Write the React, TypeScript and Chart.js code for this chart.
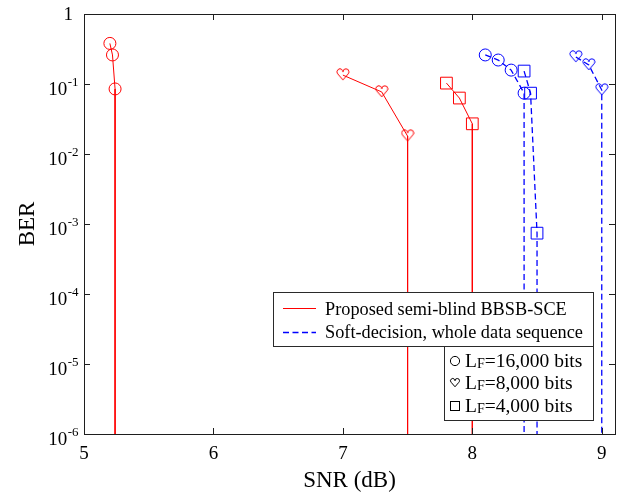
import React, { useEffect, useRef } from 'react';
import { Chart, registerables } from 'chart.js';

Chart.register(...registerables);

const FONT = "'Liberation Serif', 'Times New Roman', Times, serif";

// Axis ticks
const xTicks = [5, 6, 7, 8, 9];
const yExponents = [0, -1, -2, -3, -4, -5, -6];

// Proposed semi-blind BBSB-SCE (red, solid)
const propCircleX = [5.2, 5.22, 5.24, 5.24];
const propCircleY = [0.38, 0.26, 0.085, 1e-7];
const propHeartX = [7.0, 7.3, 7.5, 7.5];
const propHeartY = [0.134, 0.077, 0.018, 1e-7];
const propSquareX = [7.8, 7.9, 8.0, 8.0];
const propSquareY = [0.103, 0.063, 0.027, 1e-7];

// Soft-decision, whole data sequence (blue, dashed)
const softCircleX = [8.1, 8.2, 8.3, 8.4, 8.4];
const softCircleY = [0.26, 0.22, 0.158, 0.074, 1e-7];
const softHeartX = [8.8, 8.9, 9.0, 9.0];
const softHeartY = [0.243, 0.187, 0.082, 1e-7];
const softSquareX = [8.4, 8.45, 8.5, 8.5];
const softSquareY = [0.153, 0.074, 7.4e-4, 1e-7];

const legendLines = ['Proposed semi-blind BBSB-SCE', 'Soft-decision, whole data sequence'];
const legendMarkers = ['=16,000 bits', '=8,000 bits', '=4,000 bits'];

function heartPath(g: CanvasRenderingContext2D, cx: number, top: number, w: number) {
  const r = w / 4;
  const cy = top + r;
  const bottom = top + w * 0.92;
  g.beginPath();
  g.moveTo(cx, bottom);
  g.lineTo(cx - r - r * Math.SQRT1_2, cy + r * Math.SQRT1_2);
  g.arc(cx - r, cy, r, 0.75 * Math.PI, 2 * Math.PI);
  g.arc(cx + r, cy, r, Math.PI, 2.25 * Math.PI);
  g.closePath();
}

function makeHeart(color: string, s: number): HTMLCanvasElement {
  const c = document.createElement('canvas');
  c.width = s;
  c.height = s;
  const g = c.getContext('2d')!;
  g.strokeStyle = color;
  g.lineWidth = 1;
  heartPath(g, s / 2, 0.8, s - 2);
  g.stroke();
  return c;
}

function mk(label: string, xs: number[], ys: number[], color: string, style: any, dashed: boolean) {
  return {
    label,
    data: xs.map((x, i) => ({ x, y: ys[i] })),
    borderColor: color,
    borderWidth: dashed ? 1.3 : 1,
    borderDash: dashed ? [6, 3.5] : [],
    pointStyle: style,
    pointRadius: xs.map((_, i) => (i === xs.length - 1 ? 0 : style === 'rect' ? 8.3 : 6)),
    pointBorderColor: color,
    pointBackgroundColor: 'rgba(0,0,0,0)',
    pointBorderWidth: 1,
    tension: 0,
    fill: false,
  };
}

const framePlugin = {
  id: 'matlabFrame',
  afterDatasetsDraw(chart: any) {
    const { ctx, chartArea: a, scales } = chart;
    const xs = scales.x;
    const ys = scales.y;
    const L = Math.round(a.left);
    const R = Math.round(a.right);
    const T = Math.round(a.top);
    const B = Math.round(a.bottom);
    ctx.save();
    ctx.setLineDash([]);
    ctx.strokeStyle = '#1e1e1e';
    ctx.lineWidth = 1;
    ctx.strokeRect(L + 0.5, T + 0.5, R - L, B - T);
    const tl = 6;
    ctx.beginPath();
    xTicks.forEach((v) => {
      const px = Math.round(xs.getPixelForValue(v)) + 0.5;
      ctx.moveTo(px, B);
      ctx.lineTo(px, B - tl);
      ctx.moveTo(px, T);
      ctx.lineTo(px, T + tl);
    });
    yExponents.forEach((e) => {
      const py = Math.round(ys.getPixelForValue(Math.pow(10, e))) + 0.5;
      ctx.moveTo(L, py);
      ctx.lineTo(L + tl, py);
      ctx.moveTo(R, py);
      ctx.lineTo(R - tl, py);
    });
    ctx.stroke();

    // tick labels
    ctx.fillStyle = '#000';
    ctx.textBaseline = 'alphabetic';
    ctx.font = `19px ${FONT}`;
    ctx.textAlign = 'center';
    xTicks.forEach((v) => {
      const px = xs.getPixelForValue(v);
      ctx.fillText(String(v), px, B + 25);
    });
    ctx.textAlign = 'left';
    yExponents.forEach((e) => {
      const py = ys.getPixelForValue(Math.pow(10, e));
      if (e === 0) {
        ctx.font = `19px ${FONT}`;
        const w = ctx.measureText('1').width;
        ctx.fillText('1', L - 11 - w, py + 6);
        return;
      }
      ctx.font = `19px ${FONT}`;
      const w1 = ctx.measureText('10').width;
      ctx.font = `13px ${FONT}`;
      const sup = '-' + String(-e);
      const w2 = ctx.measureText(sup).width;
      const x0 = L - 6 - w1 - w2;
      ctx.font = `19px ${FONT}`;
      ctx.fillText('10', x0, py + 11);
      ctx.font = `13px ${FONT}`;
      ctx.fillText(sup, x0 + w1 + 0.5, py + 2);
    });

    // axis titles
    ctx.font = `23px ${FONT}`;
    ctx.textAlign = 'center';
    ctx.fillText('SNR (dB)', (L + R) / 2, 487);
    ctx.save();
    ctx.translate(34, (T + B) / 2);
    ctx.rotate(-Math.PI / 2);
    ctx.fillText('BER', 0, 0);
    ctx.restore();

    // legend boxes
    ctx.fillStyle = '#fff';
    ctx.fillRect(273, 292, 320, 54);
    ctx.fillRect(444, 346, 149, 74);
    ctx.strokeStyle = '#2a2a2a';
    ctx.strokeRect(273.5, 292.5, 320, 54);
    ctx.strokeRect(444.5, 346.5, 149, 74);

    ctx.lineWidth = 1;
    ctx.strokeStyle = '#ff0000';
    ctx.beginPath();
    ctx.moveTo(283, 308.5);
    ctx.lineTo(316, 308.5);
    ctx.stroke();
    ctx.strokeStyle = '#0000ff';
    ctx.lineWidth = 1.3;
    ctx.setLineDash([6, 3.5]);
    ctx.beginPath();
    ctx.moveTo(283, 332.5);
    ctx.lineTo(316, 332.5);
    ctx.stroke();
    ctx.setLineDash([]);

    ctx.fillStyle = '#000';
    ctx.textAlign = 'left';
    ctx.font = `18.3px ${FONT}`;
    ctx.fillText(legendLines[0], 325, 315);
    ctx.fillText(legendLines[1], 325, 338);

    // legend box 2 markers
    ctx.strokeStyle = '#000';
    ctx.lineWidth = 1;
    ctx.beginPath();
    ctx.arc(455, 361, 4.6, 0, Math.PI * 2);
    ctx.stroke();
    heartPath(ctx, 455, 378.5, 9);
    ctx.stroke();
    ctx.strokeRect(450.5, 401.5, 9, 9);

    const rowsY = [367, 389, 412];
    rowsY.forEach((by, i) => {
      ctx.font = `19.5px ${FONT}`;
      let x = 465;
      ctx.fillText('L', x, by);
      x += ctx.measureText('L').width;
      ctx.font = `14px ${FONT}`;
      ctx.fillText('F', x, by + 1);
      x += ctx.measureText('F').width;
      ctx.font = `19.5px ${FONT}`;
      ctx.fillText(legendMarkers[i], x, by);
    });
    ctx.restore();
  },
};

export default function App() {
  const ref = useRef<HTMLCanvasElement | null>(null);
  useEffect(() => {
    if (!ref.current) return;
    const redHeart = makeHeart('#ff0000', 14);
    const blueHeart = makeHeart('#0000ff', 14);
    const chart = new Chart(ref.current, {
      type: 'line',
      data: {
        datasets: [
          mk('Proposed, 16000', propCircleX, propCircleY, '#ff0000', 'circle', false),
          mk('Proposed, 8000', propHeartX, propHeartY, '#ff0000', redHeart, false),
          mk('Proposed, 4000', propSquareX, propSquareY, '#ff0000', 'rect', false),
          mk('Soft, 16000', softCircleX, softCircleY, '#0000ff', 'circle', true),
          mk('Soft, 8000', softHeartX, softHeartY, '#0000ff', blueHeart, true),
          mk('Soft, 4000', softSquareX, softSquareY, '#0000ff', 'rect', true),
        ] as any,
      },
      options: {
        responsive: false,
        animation: false,
        events: [],
        layout: { padding: { left: 84, top: 14, right: 9, bottom: 59 } },
        plugins: {
          legend: { display: false },
          tooltip: { enabled: false },
          title: { display: false },
        },
        scales: {
          x: { type: 'linear', min: 5, max: 9.1, display: false },
          y: { type: 'logarithmic', min: 1e-6, max: 1, display: false },
        },
      } as any,
      plugins: [framePlugin],
    });
    return () => chart.destroy();
  }, []);
  return (
    <div style={{ position: 'fixed', left: 0, top: 0, width: 624, height: 493, background: '#fff' }}>
      <canvas ref={ref} width={624} height={493} style={{ display: 'block' }} />
    </div>
  );
}
